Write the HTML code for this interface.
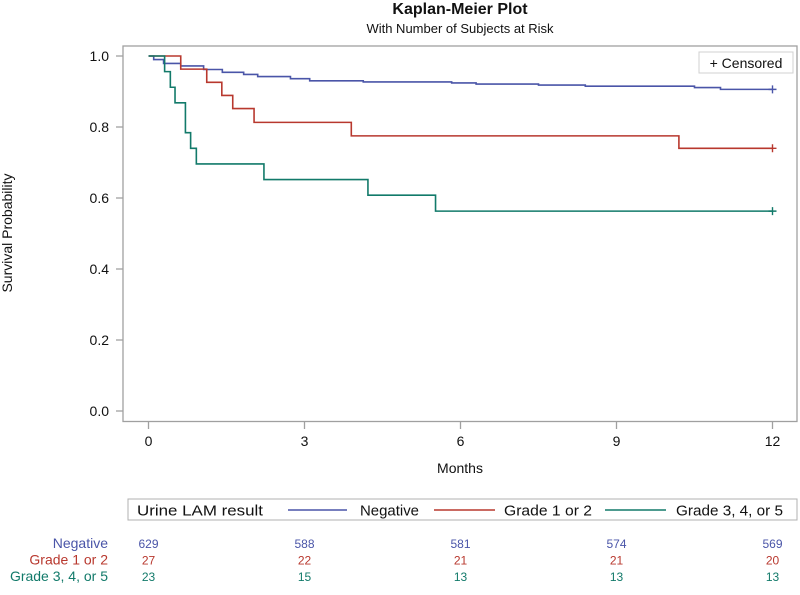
<!DOCTYPE html>
<html><head><meta charset="utf-8"><style>
body{margin:0;background:#fff;font-family:"Liberation Sans",sans-serif}
svg text{font-family:"Liberation Sans",sans-serif}
</style></head><body>
<svg id="chart" width="800" height="590" xmlns="http://www.w3.org/2000/svg">
<text x="460" y="14" text-anchor="middle" font-size="16" font-weight="bold" fill="#111">Kaplan-Meier Plot</text>
<text x="460" y="33" text-anchor="middle" font-size="13" fill="#111">With Number of Subjects at Risk</text>
<rect x="123" y="46" width="674" height="375.5" fill="none" stroke="#a0a0a0" stroke-width="1.3"/>
<g id="axes"></g>
<g id="series"></g>
<g>
<rect x="699" y="52" width="94" height="21" fill="#fff" stroke="#d0d0d0"/>
<text x="746" y="68" text-anchor="middle" font-size="14" fill="#111">+ Censored</text>
</g>
<text transform="translate(12,233) rotate(-90)" text-anchor="middle" font-size="14" fill="#111">Survival Probability</text>
<text x="460" y="473" text-anchor="middle" font-size="14" fill="#111">Months</text>
<g>
<rect x="128" y="499" width="669" height="21" fill="#fff" stroke="#b0b0b0"/>
<text x="137" y="515.5" font-size="15" fill="#111" textLength="126" lengthAdjust="spacingAndGlyphs">Urine LAM result</text>
<line x1="288" y1="510" x2="347" y2="510" stroke="#4a55a8" stroke-width="1.5"/>
<text x="360" y="515.5" font-size="15" fill="#111" textLength="59" lengthAdjust="spacingAndGlyphs">Negative</text>
<line x1="434" y1="510" x2="495" y2="510" stroke="#b8382e" stroke-width="1.5"/>
<text x="504" y="515.5" font-size="15" fill="#111" textLength="88" lengthAdjust="spacingAndGlyphs">Grade 1 or 2</text>
<line x1="605" y1="510" x2="666" y2="510" stroke="#127a6a" stroke-width="1.5"/>
<text x="676" y="515.5" font-size="15" fill="#111" textLength="107" lengthAdjust="spacingAndGlyphs">Grade 3, 4, or 5</text>
</g>
<g id="risk"></g>
</svg>
<script>
const xTicks=[0,3,6,9,12];
const yTicks=[0,0.2,0.4,0.6,0.8,1.0];
const groupNames=["Negative","Grade 1 or 2","Grade 3, 4, or 5"];
const negTimes=[0,0.1,0.29,0.62,1.06,1.42,1.83,2.1,2.73,3.1,4.13,5.83,6.3,7.5,8.4,10.5,11.0,12];
const negSurv=[1,0.99,0.979,0.972,0.962,0.954,0.948,0.942,0.936,0.930,0.927,0.924,0.921,0.918,0.915,0.911,0.906,0.906];
const g12Times=[0,0.62,1.12,1.41,1.62,2.03,3.9,10.2,12];
const g12Surv=[1,0.963,0.926,0.889,0.852,0.813,0.775,0.74,0.74];
const g345Times=[0,0.31,0.42,0.51,0.71,0.81,0.92,2.22,4.22,5.52,12];
const g345Surv=[1,0.956,0.912,0.868,0.784,0.74,0.696,0.652,0.608,0.563,0.563];
const riskNeg=[629,588,581,574,569];
const risk12=[27,22,21,21,20];
const risk345=[23,15,13,13,13];
const colors=["#4a55a8","#b8382e","#127a6a"];
const NS="http://www.w3.org/2000/svg";
const X=m=>148.5+m*52;
const Y=v=>411-v*355;
function mk(t,a,p){const e=document.createElementNS(NS,t);for(const k in a)e.setAttribute(k,a[k]);p.appendChild(e);return e;}
const ax=document.getElementById('axes');
xTicks.forEach(t=>{
 const l=mk('line',{x1:X(t),x2:X(t),y1:421.5,y2:429,stroke:'#a0a0a0','stroke-width':1.3},ax);
 
 
 const tx=mk('text',{x:X(t),y:446,'text-anchor':'middle','font-size':14,fill:'#111'},ax);
 tx.textContent=t;
 
 
});
yTicks.forEach(t=>{
 const l=mk('line',{x1:116,x2:123,y1:Y(t),y2:Y(t),stroke:'#a0a0a0','stroke-width':1.3},ax);
 
 
 const tx=mk('text',{x:109,y:Y(t)+5,'text-anchor':'end','font-size':14,fill:'#111'},ax);
 tx.textContent=t.toFixed(1);
 
 
});
const sg=document.getElementById('series');
[[negTimes,negSurv],[g12Times,g12Surv],[g345Times,g345Surv]].forEach((s,i)=>{
 const [ts,vs]=s;let d='M'+X(ts[0])+','+Y(vs[0]);
 for(let k=1;k<ts.length;k++){d+=' H'+X(ts[k])+' V'+Y(vs[k]);}
 const p=mk('path',{d:d,fill:'none',stroke:colors[i],'stroke-width':1.6},sg);
 
 
 const lt=ts[ts.length-1],lv=vs[vs.length-1];
 const c=mk('path',{d:'M'+(X(lt)-4)+','+Y(lv)+' h8 M'+X(lt)+','+(Y(lv)-4)+' v8',stroke:colors[i],'stroke-width':1.4},sg);
 
 
});
const rg=document.getElementById('risk');
[riskNeg,risk12,risk345].forEach((r,i)=>{
 const y=548+i*16.5;
 const lb=mk('text',{x:108,y:y,'text-anchor':'end','font-size':14,fill:colors[i]},rg);
 lb.textContent=groupNames[i];
 
 
 r.forEach((v,k)=>{
  const t=mk('text',{x:X(xTicks[k]),y:y,'text-anchor':'middle','font-size':12,fill:colors[i]},rg);
  t.textContent=v;
  
  
 });
});
</script>
</body></html>
